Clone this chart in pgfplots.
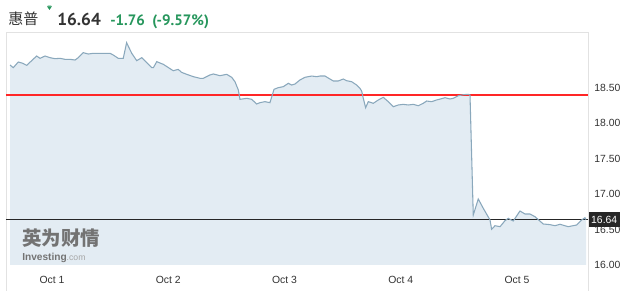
\documentclass[border=0pt]{standalone}
\usepackage{pgfplots}
\usepackage{pgfplotstable}
\pgfplotsset{compat=1.18}
\usepackage{fontspec}
\setmainfont{Liberation Sans}
\newfontfamily\cjk{Noto Sans CJK SC}
\newfontfamily\ptsans{PT Sans}
\definecolor{linec}{RGB}{138,168,188}
\definecolor{fillc}{RGB}{227,236,243}
\definecolor{greenc}{RGB}{38,150,92}
\definecolor{darkc}{RGB}{51,51,51}
\definecolor{framec}{RGB}{226,226,226}

\pgfplotstableread{
day price
0.639 18.825
0.667 18.787
0.710 18.867
0.748 18.849
0.782 18.820
0.825 18.886
0.868 18.952
0.897 18.919
0.940 18.952
0.983 18.928
1.026 18.914
1.069 18.919
1.112 18.905
1.155 18.905
1.198 18.895
1.226 18.928
1.269 18.999
1.312 18.980
1.355 18.990
1.413 18.990
1.499 18.990
1.527 18.966
1.570 18.919
1.613 18.919
1.642 19.140
1.686 18.990
1.729 18.886
1.772 18.928
1.815 18.858
1.858 18.787
1.872 18.787
1.901 18.872
1.958 18.834
2.043 18.744
2.086 18.763
2.115 18.721
2.159 18.693
2.216 18.660
2.273 18.637
2.302 18.637
2.359 18.684
2.388 18.698
2.445 18.674
2.503 18.693
2.546 18.651
2.574 18.589
2.603 18.472
2.617 18.340
2.675 18.354
2.718 18.340
2.761 18.274
2.789 18.293
2.832 18.307
2.875 18.293
2.910 18.481
2.947 18.505
2.990 18.519
3.033 18.566
3.062 18.542
3.090 18.556
3.133 18.613
3.176 18.651
3.234 18.669
3.277 18.660
3.305 18.669
3.348 18.669
3.420 18.599
3.463 18.599
3.506 18.627
3.535 18.603
3.578 18.589
3.621 18.542
3.649 18.495
3.664 18.458
3.678 18.354
3.698 18.222
3.721 18.307
3.764 18.284
3.807 18.331
3.850 18.368
3.893 18.307
3.936 18.236
3.979 18.260
4.022 18.269
4.065 18.260
4.108 18.269
4.151 18.250
4.194 18.284
4.223 18.316
4.266 18.307
4.309 18.331
4.352 18.349
4.381 18.363
4.424 18.345
4.452 18.354
4.495 18.391
4.538 18.405
4.581 18.411
4.596 18.400
4.624 16.706
4.667 16.932
4.710 16.801
4.768 16.636
4.782 16.504
4.811 16.555
4.854 16.541
4.897 16.626
4.925 16.659
4.968 16.621
5.026 16.763
5.069 16.720
5.112 16.720
5.155 16.682
5.226 16.579
5.284 16.570
5.327 16.555
5.370 16.575
5.441 16.541
5.470 16.551
5.514 16.565
5.557 16.636
5.585 16.668
5.594 16.640
}\pricetable

\begin{document}
\begin{tikzpicture}[x=1pt,y=1pt]
\useasboundingbox (0,0) rectangle (483,218.25);
\fill[white] (0,0) rectangle (483,218.25);
% frame
\draw[framec, line width=0.75pt] (4.5,0) -- (4.5,193.5) -- (441,193.5) -- (441,0);
\begin{axis}[
  at={(4.5pt,19.5pt)}, anchor=south west,
  scale only axis, width=436.5pt, height=174pt,
  xmin=0.6043, xmax=5.611, ymin=16.0, ymax=19.277,
  axis line style={draw=none},
  major tick length=0pt,
  xtick={1,2,3,4,5},
  xticklabels={Oct 1,Oct 2,Oct 3,Oct 4,Oct 5},
  xticklabel style={anchor=center, yshift=-11.25pt, font=\fontsize{7.8}{9}\selectfont, text=darkc},
  ytick={16,16.5,17,17.5,18,18.5},
  yticklabel pos=right,
  yticklabel style={anchor=west, xshift=1.2pt, font=\fontsize{7.8}{9}\selectfont, text=darkc,
    /pgf/number format/fixed, /pgf/number format/fixed zerofill, /pgf/number format/precision=2},
  /pgf/number format/assume math mode=true,
  clip=false,
]
\addplot[draw=none, fill=fillc] table[x=day, y=price] {\pricetable} \closedcycle;
\addplot[draw=red!85, line width=1pt, mark=none] coordinates {(0.6043,18.40) (5.611,18.40)};
\addplot[draw=black!85, line width=0.75pt, mark=none] coordinates {(0.6043,16.64) (5.611,16.64)};
\addplot[draw=linec, line width=0.8pt, mark=none] table[x=day, y=price] {\pricetable};
\coordinate (lastp) at (axis cs:5.611,16.64);
\end{axis}
\node[anchor=west, fill=black!85, text=white, inner xsep=1.8pt, minimum height=11.25pt, inner ysep=0pt,
  font=\fontsize{7.8}{9}\selectfont, xshift=0.4pt] at (lastp) {16.64};
% title
\node[anchor=base west, text=darkc, inner sep=0pt, font=\cjk\fontsize{11.25}{13}\selectfont] at (6,200.2) {惠普};
\fill[greenc] (35.3,213.4) -- (38.9,213.4) -- (37.1,210.8) -- cycle;
\fill[greenc] (35.9,214) -- (38.3,214) -- (38.9,213.4) -- (35.3,213.4) -- cycle;
\node[anchor=base west, text=darkc, inner sep=0pt, font=\ptsans\bfseries\fontsize{13}{15}\selectfont] at (42.75,198.9) {16.64};
\node[anchor=base west, text=greenc, inner sep=0pt, font=\ptsans\bfseries\fontsize{11.3}{13}\selectfont] at (82.5,198.9) {-1.76};
\node[anchor=base west, text=greenc, inner sep=0pt, font=\ptsans\bfseries\fontsize{11.3}{13}\selectfont] at (114,198.9) {(-9.57\%)};
% watermark
\node[anchor=west, text=black!55, inner sep=0pt, font=\cjk\bfseries\fontsize{14.6}{16}\selectfont] at (16.5,39.75) {英为财情};
\node[anchor=west, inner sep=0pt, font=\bfseries\fontsize{7.6}{9}\selectfont] at (16.5,24.75) {\textcolor{black!55}{Investing}\textcolor{black!35}{\mdseries\fontsize{6.5}{8}\selectfont.com}};
\end{tikzpicture}
\end{document}
